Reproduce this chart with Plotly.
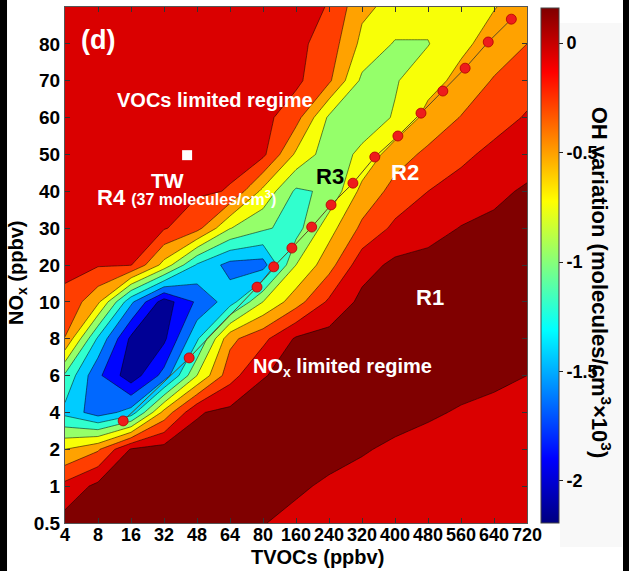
import numpy as np
import plotly.graph_objects as go

# ---------------- data ----------------
tvoc_ticks = [4, 8, 16, 32, 48, 64, 80, 160, 240, 320, 400, 480, 560, 640, 720]
nox_ticks = [0.5, 1, 2, 4, 6, 8, 10, 20, 30, 40, 50, 60, 70, 80, 90]
tvoc_labels = [str(v) for v in tvoc_ticks]
nox_labels = [str(v) for v in nox_ticks]

# OH variation (molecules/cm3 x10^3), one list per NOx level (bottom to top), columns follow TVOC ticks
oh_nox_0p5 = [0.16, 0.16, 0.16, 0.16, 0.16, 0.14, 0.08, 0.00, -0.04, -0.06, -0.08, -0.09, -0.10, -0.11, -0.12]
oh_nox_1 = [-0.09, 0.13, 0.16, 0.16, 0.16, 0.16, 0.16, 0.11, 0.03, -0.01, -0.04, -0.06, -0.08, -0.09, -0.10]
oh_nox_2 = [-0.62, -0.42, 0.09, 0.16, 0.16, 0.16, 0.16, 0.16, 0.16, 0.09, 0.03, -0.01, -0.03, -0.05, -0.07]
oh_nox_4 = [-1.38, -1.66, -1.45, -0.54, 0.05, 0.13, 0.16, 0.16, 0.16, 0.16, 0.15, 0.10, 0.05, 0.01, -0.03]
oh_nox_6 = [-1.12, -1.72, -2.14, -1.69, -0.85, -0.25, 0.06, 0.13, 0.16, 0.16, 0.16, 0.16, 0.15, 0.12, 0.07]
oh_nox_8 = [-0.40, -1.35, -2.05, -2.05, -1.35, -0.45, -0.22, 0.10, 0.16, 0.16, 0.16, 0.16, 0.16, 0.15, 0.13]
oh_nox_10 = [-0.20, -0.57, -1.49, -2.12, -1.73, -1.42, -0.85, -0.49, -0.12, 0.13, 0.16, 0.16, 0.16, 0.16, 0.15]
oh_nox_20 = [-0.12, -0.14, -0.15, -0.70, -1.34, -1.62, -1.64, -0.85, -0.48, -0.02, 0.12, 0.15, 0.16, 0.16, 0.16]
oh_nox_30 = [-0.10, -0.11, -0.12, -0.14, -0.31, -0.84, -1.04, -1.18, -0.71, -0.34, -0.11, -0.02, 0.08, 0.12, 0.14]
oh_nox_40 = [-0.08, -0.09, -0.10, -0.11, -0.13, -0.17, -0.68, -1.12, -1.04, -0.55, -0.31, -0.16, -0.07, 0.02, 0.10]
oh_nox_50 = [-0.06, -0.07, -0.08, -0.09, -0.10, -0.12, -0.11, -0.66, -0.98, -0.80, -0.49, -0.34, -0.21, -0.10, -0.03]
oh_nox_60 = [-0.05, -0.05, -0.06, -0.07, -0.08, -0.09, -0.09, -0.30, -0.89, -0.97, -0.83, -0.54, -0.38, -0.25, -0.14]
oh_nox_70 = [-0.04, -0.04, -0.05, -0.05, -0.06, -0.07, -0.09, -0.11, -0.35, -0.90, -0.87, -0.71, -0.55, -0.37, -0.25]
oh_nox_80 = [-0.03, -0.03, -0.04, -0.04, -0.05, -0.06, -0.07, -0.10, -0.26, -0.68, -0.87, -0.86, -0.67, -0.53, -0.39]
oh_nox_90 = [-0.02, -0.02, -0.03, -0.03, -0.04, -0.05, -0.06, -0.09, -0.17, -0.57, -0.69, -0.77, -0.74, -0.63, -0.52]

# ridge of points (TVOCs ppbv, NOx ppbv)
ridge_tvoc = [14.1, 44.2, 77.1, 106, 150, 198, 245, 298, 351, 407, 463, 516, 570, 626, 682]
ridge_nox = [3.54, 6.96, 14.0, 19.5, 24.6, 30.3, 36.3, 42.2, 49.3, 55.0, 61.2, 67.2, 73.4, 80.5, 86.7]

# TW site
tw_tvoc = [43.2]
tw_nox = [49.8]

# contour levels & colour range
level_start, level_size, n_levels = -2.0, 0.23, 10
cmin, cmax = -2.19, 0.163
cbar_ticks = [0, -0.5, -1, -1.5, -2]
cbar_labels = ["0", "-0.5", "-1", "-1.5", "-2"]

# ---------------- build ----------------
z = [oh_nox_0p5, oh_nox_1, oh_nox_2, oh_nox_4, oh_nox_6, oh_nox_8, oh_nox_10, oh_nox_20,
     oh_nox_30, oh_nox_40, oh_nox_50, oh_nox_60, oh_nox_70, oh_nox_80, oh_nox_90]
xi = list(range(len(tvoc_ticks)))
yi = list(range(len(nox_ticks)))


def to_idx(vals, ticks):
    return list(np.interp(vals, ticks, range(len(ticks))))


def jet(t):
    t = min(max(t, 0.0), 1.0)
    r = min(max(min(4 * t - 1.5, -4 * t + 4.5), 0), 1)
    g = min(max(min(4 * t - 0.5, -4 * t + 3.5), 0), 1)
    b = min(max(min(4 * t + 0.5, -4 * t + 2.5), 0), 1)
    return "rgb(%d,%d,%d)" % (round(r * 255), round(g * 255), round(b * 255))


band_vals = [-2.14] + [level_start + (k - 1) * level_size + level_size / 2 for k in range(1, n_levels)] + [cmax]
band_scale = [[k / n_levels, jet((v - cmin) / (cmax - cmin))] for k, v in enumerate(band_vals)]
jet_scale = [[p, jet(p)] for p in [0, 0.125, 0.25, 0.375, 0.5, 0.625, 0.75, 0.875, 1]]

FONT = "Liberation Sans, Arial, sans-serif"


def bold(size, color="black"):
    return dict(family=FONT, size=size, color=color, weight="bold")


fig = go.Figure()
fig.add_trace(go.Contour(
    x=xi, y=yi, z=z,
    autocontour=False,
    contours=dict(start=level_start, end=level_start + (n_levels - 1) * level_size + 1e-4,
                  size=level_size, coloring="fill"),
    colorscale=band_scale, showscale=False,
    line=dict(color="rgba(0,0,0,0.85)", width=0.6, smoothing=0),
    hoverinfo="skip",
))

fig.add_trace(go.Scatter(
    x=to_idx(ridge_tvoc, tvoc_ticks), y=to_idx(ridge_nox, nox_ticks),
    mode="lines+markers",
    line=dict(color="#5b4a22", width=1),
    marker=dict(color="#ee1c1c", size=10, line=dict(color="#b00000", width=0.8)),
    showlegend=False, hoverinfo="skip",
))

fig.add_trace(go.Scatter(
    x=to_idx(tw_tvoc, tvoc_ticks), y=to_idx(tw_nox, nox_ticks),
    mode="markers", marker=dict(symbol="square", color="white", size=10),
    showlegend=False, hoverinfo="skip",
))

# colour bar (continuous jet)
fig.add_trace(go.Scatter(
    x=[None], y=[None], mode="markers", showlegend=False, hoverinfo="skip",
    marker=dict(color=[cmin, cmax], cmin=cmin, cmax=cmax, colorscale=jet_scale, showscale=True,
                colorbar=dict(x=1.0303, xanchor="left", xpad=0, ypad=0, y=0.5, yanchor="middle",
                              len=0.998, lenmode="fraction", thickness=18,
                              outlinewidth=1, outlinecolor="#444",
                              tickvals=cbar_ticks, ticktext=cbar_labels,
                              ticks="outside", ticklen=4, tickcolor="#222",
                              tickfont=bold(18))),
))

ann = [
    dict(x=1.0, y=13.1, text="(d)", font=bold(27, "white")),
    dict(x=4.55, y=11.48, text="VOCs limited regime", font=bold(20, "white")),
    dict(x=3.12, y=9.3, text="TW", font=bold(21, "white")),
    dict(x=0.9, y=8.82, xanchor="left",
         text="R4 <span style='font-size:16px'>(37 molecules/cm<sup>3</sup>)</span>",
         font=bold(22, "white")),
    dict(x=8.03, y=9.41, text="R3", font=bold(22, "black")),
    dict(x=10.3, y=9.52, text="R2", font=bold(22, "white")),
    dict(x=11.06, y=6.13, text="R1", font=bold(22, "white")),
    dict(x=8.42, y=4.23, text="NO<sub>x</sub> limited regime", font=bold(20, "white")),
]
for a in ann:
    a.update(xref="x", yref="y", showarrow=False, yanchor="middle")
    a.setdefault("xanchor", "center")
    fig.add_annotation(**a)

# axis titles
fig.add_annotation(xref="paper", yref="paper", x=0.5476, y=-0.066, xanchor="center", yanchor="middle",
                   showarrow=False, text="TVOCs (ppbv)", font=bold(20))
fig.add_annotation(xref="paper", yref="paper", x=-0.1017, y=0.4845, xanchor="center", yanchor="middle",
                   showarrow=False, textangle=-90, text="NO<sub>x</sub> (ppbv)", font=bold(20))
fig.add_annotation(xref="paper", yref="paper", x=1.161, y=0.465, xanchor="center", yanchor="middle",
                   showarrow=False, textangle=90,
                   text="OH variation (molecules/cm<sup>3</sup>×10<sup>3</sup>)", font=bold(22))

# frame decorations
fig.add_shape(type="rect", xref="paper", yref="paper", x0=1.0714, x1=1.2056, y0=-0.0465, y1=0.969,
              fillcolor="#f8f8f8", line=dict(width=0), layer="below")
fig.add_shape(type="rect", xref="paper", yref="paper", x0=-0.1407, x1=-0.1255, y0=-0.095, y1=1.015,
              fillcolor="black", line=dict(width=0), layer="above")
fig.add_shape(type="rect", xref="paper", yref="paper", x0=1.2078, x1=1.2222, y0=-0.095, y1=1.015,
              fillcolor="black", line=dict(width=0), layer="above")

axis_common = dict(ticks="inside", ticklen=5, tickcolor="#333", showgrid=False, zeroline=False,
                   showline=True, linecolor="#555", linewidth=1, mirror="ticks")
fig.update_xaxes(range=[0, 14], tickvals=xi, ticktext=tvoc_labels, tickangle=0,
                 tickfont=bold(18), ticklabelstandoff=-5, **axis_common)
fig.update_yaxes(range=[0, 14], tickvals=yi, ticktext=nox_labels, tickfont=bold(19), **axis_common)

fig.update_layout(
    width=629, height=571,
    margin=dict(l=65, r=102, t=7, b=48, pad=0),
    paper_bgcolor="white", plot_bgcolor="white",
    showlegend=False,
)

fig.write_html("out.html")
